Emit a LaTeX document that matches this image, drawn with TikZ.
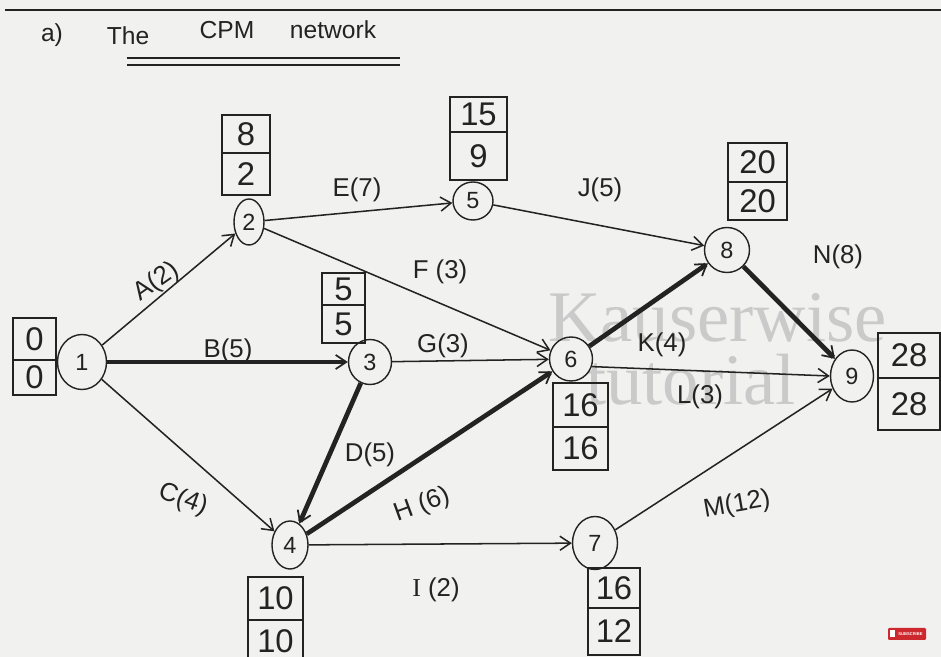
\documentclass[tikz,border=0pt]{standalone}
\usepackage{fontspec}
\setmainfont{Liberation Sans}
\newfontfamily\wmfont{Liberation Serif}
\usetikzlibrary{arrows.meta,shapes.geometric}
\definecolor{paper}{RGB}{241,241,239}
\definecolor{ink}{RGB}{35,35,35}
\definecolor{wmgray}{RGB}{202,202,202}
\definecolor{ytred}{RGB}{205,40,45}
\begin{document}
\begin{tikzpicture}[x=0.03cm,y=-0.03cm,
  ev/.style={ellipse,draw=ink,line width=1.2pt,inner sep=0pt,text=ink,font=\fontsize{20}{20}\selectfont},
  cell/.style={draw=ink,line width=1.2pt,inner sep=0pt,text=ink,font=\fontsize{28}{28}\selectfont},
  lab/.style={text=ink,inner sep=0pt,font=\fontsize{22}{22}\selectfont},
  act/.style={draw=ink,line width=1.3pt,-{Straight Barb[length=9pt,width=12pt,line width=1.3pt]}},
  crit/.style={draw=ink,line width=4pt,-{Straight Barb[length=9pt,width=12pt,line width=1.5pt]}},
  ttl/.style={text=ink,inner sep=0pt,font=\fontsize{21}{21}\selectfont},
  wm/.style={text=wmgray,inner sep=0pt,font=\wmfont\fontsize{62}{62}\selectfont,anchor=base west},
]
\clip (0,0) rectangle (941,657);
\fill[paper] (0,0) rectangle (941,657);

% watermark
\node[wm] (wm1) at (548,342) {Kauserwise};
\node[wm] (wm2) at (586,405) {tutorial};

% title
\draw[ink,line width=1.5pt] (5,10) -- (941,10);
\node[ttl] (t1) at (52,35) {a)};
\node[ttl] (t2) at (128,36) {The};
\node[ttl] (t3) at (227,30) {CPM};
\node[ttl] (t4) at (333,30) {network};
\draw[ink,line width=1.3pt] (127,58) -- (400,58);
\draw[ink,line width=1.3pt] (127,65) -- (400,65);

% events
\node[ev,minimum width=1.47cm,minimum height=1.65cm] (n1) at (82,362) {1};
\node[ev,minimum width=0.90cm,minimum height=1.38cm] (n2) at (249,222) {2};
\node[ev,minimum width=1.29cm,minimum height=1.35cm] (n3) at (370,362) {3};
\node[ev,minimum width=1.08cm,minimum height=1.44cm] (n4) at (290,545) {4};
\node[ev,minimum width=1.20cm,minimum height=1.14cm] (n5) at (473,201) {5};
\node[ev,minimum width=1.29cm,minimum height=1.32cm] (n6) at (571,359) {6};
\node[ev,minimum width=1.35cm,minimum height=1.59cm] (n7) at (595,543) {7};
\node[ev,minimum width=1.35cm,minimum height=1.35cm] (n8) at (727,250) {8};
\node[ev,minimum width=1.29cm,minimum height=1.56cm] (n9) at (852,376) {9};

% time boxes
\node[cell,minimum width=1.29cm,minimum height=1.26cm] (b1t) at (34.5,339) {0};
\node[cell,minimum width=1.29cm,minimum height=1.05cm] (b1b) at (34.5,377.5) {0};
\node[cell,minimum width=1.44cm,minimum height=1.14cm] (b2t) at (246,134) {8};
\node[cell,minimum width=1.44cm,minimum height=1.26cm] (b2b) at (246,174) {2};
\node[cell,minimum width=1.71cm,minimum height=1.05cm] (b5t) at (478.5,114.5) {15};
\node[cell,minimum width=1.71cm,minimum height=1.44cm] (b5b) at (478.5,156) {9};
\node[cell,minimum width=1.29cm,minimum height=0.96cm] (b3t) at (343.5,289) {5};
\node[cell,minimum width=1.29cm,minimum height=1.14cm] (b3b) at (343.5,324) {5};
\node[cell,minimum width=1.77cm,minimum height=1.17cm] (b8t) at (757.5,162.5) {20};
\node[cell,minimum width=1.77cm,minimum height=1.14cm] (b8b) at (757.5,201) {20};
\node[cell,minimum width=1.86cm,minimum height=1.35cm] (b9t) at (909,355.5) {28};
\node[cell,minimum width=1.86cm,minimum height=1.56cm] (b9b) at (909,404) {28};
\node[cell,minimum width=1.65cm,minimum height=1.32cm] (b6t) at (580.5,405) {16};
\node[cell,minimum width=1.65cm,minimum height=1.29cm] (b6b) at (580.5,448.5) {16};
\node[cell,minimum width=1.65cm,minimum height=1.29cm] (b4t) at (275.5,598.5) {10};
\node[cell,minimum width=1.65cm,minimum height=1.29cm] (b4b) at (275.5,641.5) {10};
\node[cell,minimum width=1.56cm,minimum height=1.20cm] (b7t) at (614,588) {16};
\node[cell,minimum width=1.56cm,minimum height=1.41cm] (b7b) at (614,631.5) {12};

% activities
\draw[act]  (n1) -- (n2);
\draw[crit] (n1) -- (n3);
\draw[act]  (n1) -- (n4);
\draw[act]  (n2) -- (n5);
\draw[act]  (n2) -- (n6);
\draw[act]  (n3) -- (n6);
\draw[crit] (n3) -- (n4);
\draw[crit] (n4) -- (n6);
\draw[act]  (n4) -- (n7);
\draw[act]  (n5) -- (n8);
\draw[crit] (n6) -- (n8);
\draw[act]  (n6.-20) -- (n9.west);
\draw[act]  (n7) -- (n9);
\draw[crit] (n8) -- (n9);

% activity labels
\node[lab,rotate=35]  (lA) at (157,282) {A(2)};
\node[lab]            (lB) at (228,351) {B(5)};
\node[lab,rotate=-20] (lC) at (183,500) {C(4)};
\node[lab]            (lD) at (370,455) {D(5)};
\node[lab]            (lE) at (357,190) {E(7)};
\node[lab]            (lF) at (440,272) {F (3)};
\node[lab]            (lG) at (443,346) {G(3)};
\node[lab,rotate=20]  (lH) at (422,505) {H (6)};
\node[lab]            (lI) at (436,590) {{\wmfont I} (2)};
\node[lab]            (lJ) at (600,190) {J(5)};
\node[lab]            (lK) at (662,345) {K(4)};
\node[lab]            (lL) at (700,397) {L(3)};
\node[lab,rotate=10]  (lM) at (737,505) {M(12)};
\node[lab]            (lN) at (838,257) {N(8)};

% subscribe badge
\fill[ytred,rounded corners=1pt] (888,628) rectangle (926,640);
\fill[white] (890,630.5) rectangle (894.5,637.5);
\node[text=white,inner sep=0pt,font=\fontsize{3.5}{3.5}\selectfont\bfseries] (subs) at (910.5,634) {SUBSCRIBE};
\end{tikzpicture}
\end{document}
